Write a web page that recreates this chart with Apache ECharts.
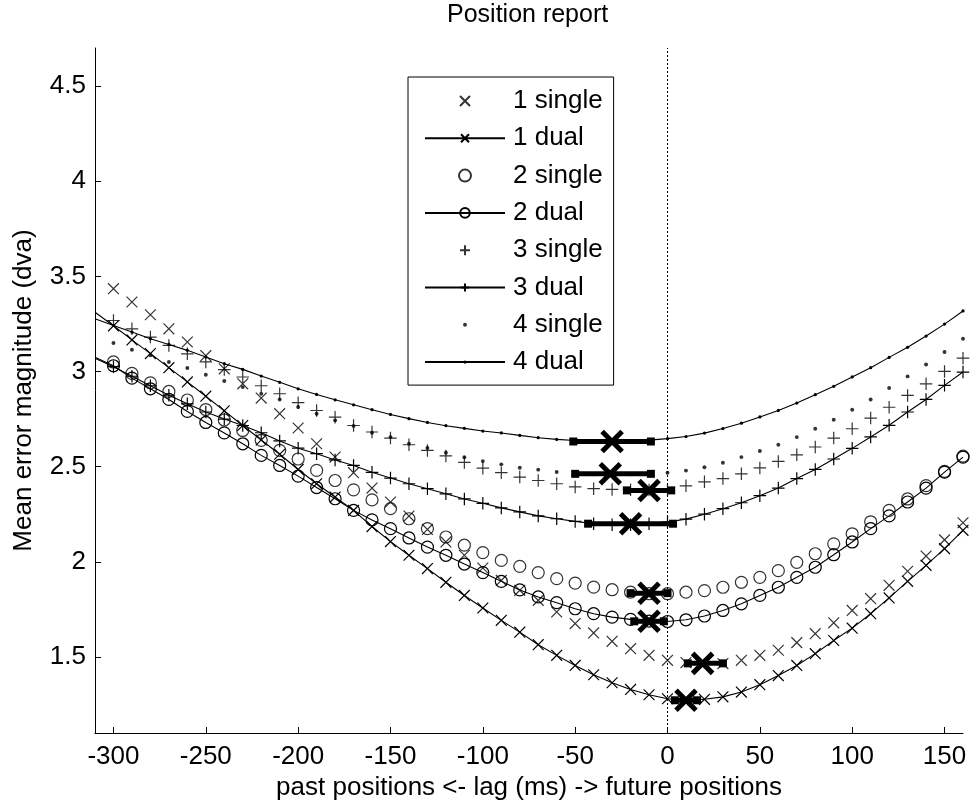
<!DOCTYPE html>
<html>
<head>
<meta charset="utf-8">
<title>Position report</title>
<script src="https://cdn.jsdelivr.net/npm/echarts@6/dist/echarts.min.js"></script>
<style>
  html, body { margin: 0; padding: 0; background: #fff; }
  #main { width: 970px; height: 807px; }
</style>
</head>
<body>
<div id="main"></div>
<script>
// lag in ms, markers every 10 ms
const lags = [-300, -290, -280, -270, -260, -250, -240, -230, -220, -210,
  -200, -190, -180, -170, -160, -150, -140, -130, -120, -110,
  -100, -90, -80, -70, -60, -50, -40, -30, -20, -10,
  0, 10, 20, 30, 40, 50, 60, 70, 80, 90,
  100, 110, 120, 130, 140, 150, 160];
// the dual fits start at the left edge of the axes
const dualStart = -310;

const single1 = [3.435, 3.365, 3.298, 3.224, 3.155, 3.083, 3.014, 2.935, 2.86, 2.778,
  2.703, 2.62, 2.55, 2.468, 2.387, 2.314, 2.24, 2.17, 2.104, 2.034,
  1.967, 1.902, 1.85, 1.797, 1.736, 1.675, 1.626, 1.582, 1.543, 1.508,
  1.482, 1.47, 1.465, 1.465, 1.482, 1.508, 1.535, 1.575, 1.622, 1.679,
  1.744, 1.806, 1.876, 1.95, 2.03, 2.115, 2.205];
const dual1 = [3.311,
  3.24, 3.166, 3.094, 3.02, 2.945, 2.87, 2.793, 2.716, 2.64, 2.565,
  2.485, 2.41, 2.34, 2.27, 2.185, 2.106, 2.034, 1.964, 1.892, 1.823,
  1.757, 1.692, 1.63, 1.564, 1.508, 1.455, 1.406, 1.364, 1.329, 1.301,
  1.28, 1.272, 1.277, 1.29, 1.315, 1.354, 1.402, 1.455, 1.517, 1.586,
  1.651, 1.727, 1.81, 1.897, 1.981, 2.069, 2.165];
const single2 = [3.05, 2.99, 2.94, 2.895, 2.85, 2.80, 2.745, 2.69, 2.638, 2.585,
  2.54, 2.48, 2.427, 2.378, 2.325, 2.279, 2.226, 2.174, 2.13, 2.087,
  2.048, 2.007, 1.976, 1.943, 1.911, 1.888, 1.867, 1.853, 1.84, 1.832,
  1.832, 1.84, 1.848, 1.866, 1.892, 1.918, 1.953, 1.997, 2.042, 2.094,
  2.147, 2.21, 2.27, 2.33, 2.40, 2.475, 2.555];
const dual2 = [3.075,
  3.03, 2.965, 2.909, 2.853, 2.79, 2.732, 2.677, 2.62, 2.559, 2.506,
  2.45, 2.39, 2.331, 2.27, 2.22, 2.174, 2.125, 2.077, 2.034, 1.988,
  1.943, 1.897, 1.852, 1.815, 1.785, 1.753, 1.727, 1.709, 1.697, 1.688,
  1.686, 1.695, 1.715, 1.744, 1.779, 1.823, 1.866, 1.918, 1.971, 2.037,
  2.104, 2.174, 2.241, 2.314, 2.387, 2.471, 2.55];
const single3 = [3.268, 3.224, 3.181, 3.137, 3.093, 3.05, 3.01, 2.971, 2.925, 2.883,
  2.836, 2.795, 2.76, 2.716, 2.682, 2.65, 2.615, 2.585, 2.556, 2.522,
  2.492, 2.468, 2.445, 2.427, 2.41, 2.393, 2.384, 2.38, 2.378, 2.377,
  2.378, 2.399, 2.42, 2.437, 2.462, 2.493, 2.527, 2.562, 2.603, 2.65,
  2.699, 2.755, 2.812, 2.874, 2.935, 3.0, 3.07];
const dual3 = [3.07,
  3.025, 2.975, 2.925, 2.875, 2.83, 2.787, 2.75, 2.716, 2.678, 2.635,
  2.597, 2.568, 2.535, 2.506, 2.47, 2.44, 2.41, 2.384, 2.357, 2.33,
  2.307, 2.283, 2.262, 2.241, 2.226, 2.212, 2.2, 2.195, 2.195, 2.2,
  2.209, 2.224, 2.25, 2.279, 2.31, 2.347, 2.387, 2.437, 2.485, 2.54,
  2.596, 2.656, 2.717, 2.787, 2.853, 2.927, 2.997];
const single4 = [3.15, 3.114, 3.085, 3.05, 3.018, 2.983, 2.95, 2.918, 2.883, 2.853,
  2.813, 2.778, 2.743, 2.714, 2.678, 2.655, 2.62, 2.598, 2.573, 2.549,
  2.529, 2.512, 2.494, 2.484, 2.472, 2.465, 2.46, 2.458, 2.46, 2.463,
  2.468, 2.479, 2.497, 2.52, 2.55, 2.582, 2.615, 2.655, 2.699, 2.746,
  2.799, 2.853, 2.913, 2.974, 3.037, 3.102, 3.172];
const dual4 = [3.277,
  3.242, 3.207, 3.172, 3.142, 3.111, 3.076, 3.041, 3.011, 2.976, 2.943,
  2.909, 2.879, 2.851, 2.825, 2.799, 2.774, 2.752, 2.732, 2.715, 2.701,
  2.687, 2.677, 2.664, 2.652, 2.643, 2.637, 2.633, 2.632, 2.634, 2.639,
  2.647, 2.658, 2.676, 2.7, 2.728, 2.761, 2.795, 2.834, 2.878, 2.922,
  2.971, 3.02, 3.074, 3.127, 3.186, 3.249, 3.318];

// best lag (big X) with its interval, one per curve
const peakLag = [-30, -31, -10, -20, -10, -10, 19, 10];
const peakErr = [2.632, 2.462, 2.375, 2.2, 1.835, 1.687, 1.466, 1.272];
const peakLo = [-51, -50, -22, -43, -20, -18, 11, 4];
const peakHi = [-9, -9, 2, 3, 0, -2, 30, 16];

const xTicks = [-300, -250, -200, -150, -100, -50, 0, 50, 100, 150];
const yTicks = [1.5, 2, 2.5, 3, 3.5, 4, 4.5];

const FONT = '"Liberation Sans", Arial, Helvetica, sans-serif';
const CROSS = 'path://M-1,-1M11,11M0,0L10,10M10,0L0,10';
const PLUS = 'path://M-1,-1M11,11M5,0L5,10M0,5L10,5';
// tiny dot inside a larger invisible box so the legend keeps it small
const DOT = 'path://M0,0M8,8M2.7,4A1.3,1.3,0,1,0,5.3,4A1.3,1.3,0,1,0,2.7,4Z';

function singleData(vals) {
  return vals.map(function (v, i) { return [lags[i], v]; });
}
function dualData(vals) {
  const xs = [dualStart].concat(lags);
  return vals.map(function (v, i) {
    if (i === 0) return { value: [xs[i], v], symbol: 'none' };
    return [xs[i], v];
  });
}

function singleSeries(name, vals, symbol, size, filled) {
  return {
    name: name,
    type: 'scatter',
    data: singleData(vals),
    symbol: symbol,
    symbolSize: size,
    itemStyle: filled
      ? { color: '#000', borderWidth: 0 }
      : { color: 'none', borderColor: '#000', borderWidth: 1.2 },
    emphasis: { disabled: true },
    z: 3
  };
}
function dualSeries(name, vals, symbol, size, filled) {
  return {
    name: name,
    type: 'line',
    data: dualData(vals),
    symbol: symbol,
    symbolSize: size,
    showAllSymbol: true,
    lineStyle: { color: '#000', width: 1.1 },
    itemStyle: filled
      ? { color: '#000', borderWidth: 0 }
      : { color: 'none', borderColor: '#000', borderWidth: 1.2 },
    emphasis: { disabled: true },
    z: 3
  };
}

function renderPeak(params, api) {
  const y = api.value(1);
  const c = api.coord([api.value(0), y]);
  const a = api.coord([api.value(2), y]);
  const b = api.coord([api.value(3), y]);
  const h = 10, cap = 4;
  const thick = { stroke: '#000', lineWidth: 5 };
  return {
    type: 'group',
    children: [
      { type: 'line', shape: { x1: a[0], y1: a[1], x2: b[0], y2: b[1] }, style: thick },
      { type: 'rect', shape: { x: a[0] - cap, y: a[1] - cap, width: cap * 2, height: cap * 2 }, style: { fill: '#000' } },
      { type: 'rect', shape: { x: b[0] - cap, y: b[1] - cap, width: cap * 2, height: cap * 2 }, style: { fill: '#000' } },
      { type: 'line', shape: { x1: c[0] - h, y1: c[1] - h, x2: c[0] + h, y2: c[1] + h }, style: thick },
      { type: 'line', shape: { x1: c[0] - h, y1: c[1] + h, x2: c[0] + h, y2: c[1] - h }, style: thick }
    ]
  };
}

const chart = echarts.init(document.getElementById('main'), null, { renderer: 'canvas' });

const option = {
  animation: false,
  backgroundColor: '#fff',
  textStyle: { fontFamily: FONT, color: '#000' },
  title: {
    text: 'Position report',
    left: 447,
    top: 3,
    padding: 0,
    textStyle: { fontFamily: FONT, fontSize: 25, fontWeight: 'normal', color: '#000' }
  },
  legend: {
    orient: 'vertical',
    left: 408,
    top: 77,
    padding: [11, 11, 10, 16],
    itemWidth: 80,
    itemHeight: 12,
    itemGap: 11.3,
    borderColor: '#000',
    borderWidth: 1,
    backgroundColor: '#fff',
    selectedMode: false,
    textStyle: { fontFamily: FONT, fontSize: 26, color: '#000', padding: [0, 0, 0, 3] },
    data: ['1 single', '1 dual', '2 single', '2 dual', '3 single', '3 dual', '4 single', '4 dual']
  },
  grid: { left: 95, right: 7, top: 48, bottom: 74, containLabel: false, outerBoundsMode: 'none' },
  xAxis: {
    type: 'value',
    min: -310,
    max: 160,
    name: 'past positions <- lag (ms) -> future positions',
    nameLocation: 'middle',
    nameGap: 42,
    nameTextStyle: { fontFamily: FONT, fontSize: 26, color: '#000' },
    axisLine: { onZero: false, lineStyle: { color: '#000', width: 1 } },
    axisTick: { inside: true, length: 6, customValues: xTicks, lineStyle: { color: '#000' } },
    axisLabel: { customValues: xTicks, margin: 11, fontFamily: FONT, fontSize: 26, color: '#000' },
    splitLine: { show: false }
  },
  yAxis: {
    type: 'value',
    min: 1.1,
    max: 4.7,
    name: 'Mean error magnitude (dva)',
    nameLocation: 'middle',
    nameGap: 58,
    nameTextStyle: { fontFamily: FONT, fontSize: 26, color: '#000' },
    axisLine: { show: true, onZero: false, lineStyle: { color: '#000', width: 1 } },
    axisTick: { show: true, inside: true, length: 6, customValues: yTicks, lineStyle: { color: '#000' } },
    axisLabel: { customValues: yTicks, margin: 9, fontFamily: FONT, fontSize: 26, color: '#000' },
    splitLine: { show: false }
  },
  series: [
    singleSeries('1 single', single1, CROSS, 13, false),
    dualSeries('1 dual', dual1, CROSS, 13, false),
    singleSeries('2 single', single2, 'circle', 12, false),
    dualSeries('2 dual', dual2, 'circle', 12, false),
    singleSeries('3 single', single3, PLUS, 15, false),
    dualSeries('3 dual', dual3, PLUS, 15, false),
    singleSeries('4 single', single4, DOT, 12, true),
    dualSeries('4 dual', dual4, DOT, 10, true),
    {
      name: 'best lag',
      type: 'custom',
      renderItem: renderPeak,
      data: peakLag.map(function (x, i) { return [x, peakErr[i], peakLo[i], peakHi[i]]; }),
      encode: { x: 0, y: 1 },
      silent: true,
      z: 5,
      markLine: {
        silent: true,
        symbol: ['none', 'none'],
        label: { show: false },
        lineStyle: { color: '#000', width: 1, type: [2, 2] },
        data: [{ xAxis: 0 }]
      }
    }
  ]
};

chart.setOption(option);
</script>
</body>
</html>
